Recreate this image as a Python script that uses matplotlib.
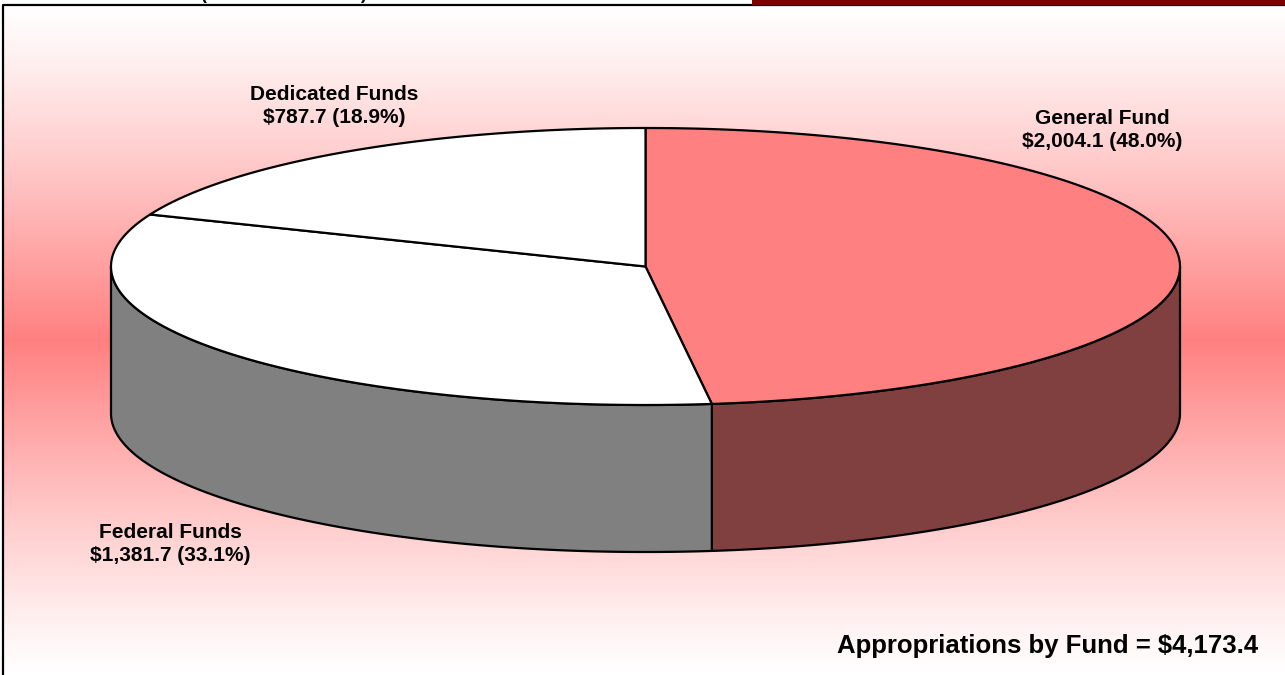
import numpy as np
import matplotlib
matplotlib.use("Agg")
import matplotlib.pyplot as plt
from matplotlib.patches import Polygon
from matplotlib.colors import LinearSegmentedColormap

# Fund appropriations (millions of dollars)
funds = ["General Fund", "Federal Funds", "Dedicated Funds"]
amounts = [2004.1, 1381.7, 787.7]
top_colors = ["#FF8080", "#FFFFFF", "#FFFFFF"]
side_colors = ["#804040", "#808080", "#B0B0B0"]
label_pos = [(1102, 130), (170, 544), (334, 106)]
total_label = "Appropriations by Fund = $4,173.4"

W, H = 1285, 675
fig = plt.figure(figsize=(W / 100, H / 100), dpi=100)
ax = fig.add_axes([0, 0, 1, 1])
ax.set_xlim(0, W)
ax.set_ylim(H, 0)
ax.axis("off")

plt.rcParams["font.family"] = ["Liberation Sans", "DejaVu Sans"]

# vertical white-red-white background band
d = np.abs(np.linspace(-1, 1, 600))
grad = (1 - (1 - d) ** 1.15)[:, None]
cmap = LinearSegmentedColormap.from_list("bg", ["#FF8080", "#FFFFFF"])
ax.imshow(grad, cmap=cmap, vmin=0, vmax=1, aspect="auto",
          extent=(3, W, H, 5), zorder=0, interpolation="bilinear")

# frame and header strip
ax.plot([3, 3, W], [H, 5, 5], color="black", lw=1.6, zorder=5,
        solid_capstyle="butt")
ax.fill_between([752, W], 0, 4.5, color="#800000", zorder=5, lw=0)
ax.text(284, -1.0, "(Dollars in Millions)", ha="center", va="baseline",
        fontsize=13, fontweight="bold", zorder=4)

# 3-D pie geometry
cx, cy, a, b, depth = 645.5, 266.5, 534.5, 138.5, 147


def rim(theta_deg, dy=0.0):
    t = np.radians(theta_deg)
    return cx + a * np.sin(t), cy - b * np.cos(t) + dy


total = sum(amounts)
bounds = np.concatenate([[0], np.cumsum(amounts) / total * 360])

# visible front wall (90..270 degrees clockwise from top)
for i in range(len(amounts)):
    lo, hi = max(bounds[i], 90), min(bounds[i + 1], 270)
    if hi <= lo:
        continue
    th = np.linspace(lo, hi, 200)
    xt, yt = rim(th)
    xb, yb = rim(th[::-1], depth)
    pts = np.column_stack([np.concatenate([xt, xb]), np.concatenate([yt, yb])])
    ax.add_patch(Polygon(pts, closed=True, facecolor=side_colors[i],
                         edgecolor="black", lw=1.6, joinstyle="round", zorder=2))

# top faces
for i in range(len(amounts)):
    th = np.linspace(bounds[i], bounds[i + 1], 300)
    xt, yt = rim(th)
    pts = np.column_stack([np.concatenate([[cx], xt]), np.concatenate([[cy], yt])])
    ax.add_patch(Polygon(pts, closed=True, facecolor=top_colors[i],
                         edgecolor="black", lw=1.6, joinstyle="round", zorder=3))

# labels
for name, amt, (lx, ly) in zip(funds, amounts, label_pos):
    ax.text(lx, ly, f"{name}\n${amt:,.1f} ({amt / total * 100:.1f}%)",
            ha="center", va="center", fontsize=15, fontweight="bold",
            linespacing=1.25, zorder=6)

ax.text(1258, 646, total_label, ha="right", va="center", fontsize=18.5,
        fontweight="bold", zorder=6)

fig.savefig("out.png", dpi=100)
